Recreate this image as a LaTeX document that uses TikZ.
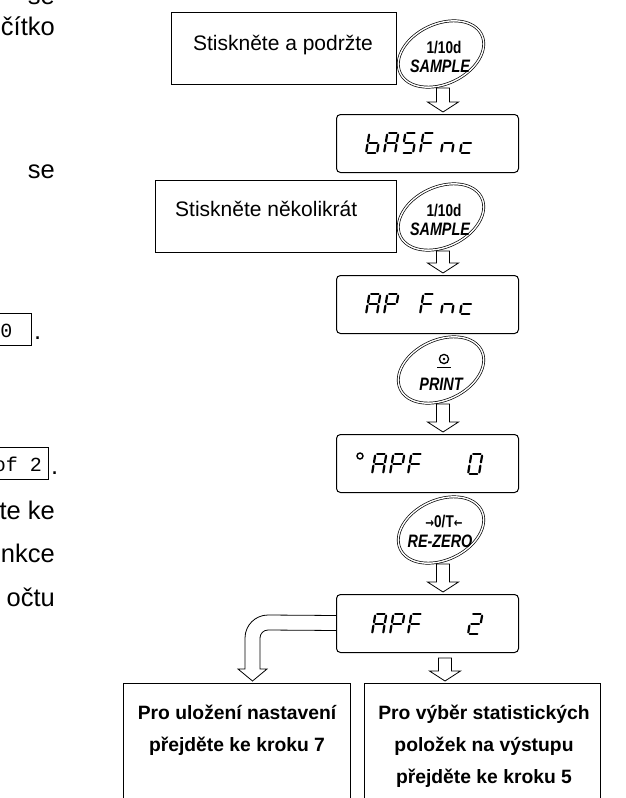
\documentclass[tikz,border=0pt]{standalone}
\usepackage{fontspec}
\usepackage{graphicx}
\usetikzlibrary{calc}
\setmainfont{Liberation Sans}
\setmonofont{Liberation Mono}
\newfontfamily\symbolfont{DejaVu Sans}

% seven-segment LCD pieces; #1,#2 = lower-left corner of the glyph (px, y down)
\newcommand\segA[2]{\draw[segline] ({#1+5.1},{#2-20}) -- ({#1+12.6},{#2-20});}
\newcommand\segB[2]{\draw[segline] ({#1+14.1},{#2-18.4}) -- ({#1+12.9},{#2-11.6});}
\newcommand\segC[2]{\draw[segline] ({#1+12.4},{#2-8.4}) -- ({#1+11.3},{#2-1.6});}
\newcommand\segD[2]{\draw[segline] ({#1+1.6},{#2}) -- ({#1+9.4},{#2});}
\newcommand\segE[2]{\draw[segline] ({#1+0.3},{#2-1.6}) -- ({#1+1.4},{#2-8.4});}
\newcommand\segF[2]{\draw[segline] ({#1+2.0},{#2-11.6}) -- ({#1+3.1},{#2-18.4});}
\newcommand\segG[2]{\draw[segline] ({#1+3.3},{#2-10}) -- ({#1+11.0},{#2-10});}
\newcommand\lcdchar[3]{\foreach \q in {#3}{\csname seg\q\endcsname{#1}{#2}}}

% hollow block arrow pointing down from #1 to just above #2
\newcommand\blockarrow[2]{%
  \draw[hollow] let \p1=#1, \p2=#2 in
    (\x1-6.5pt,\y1) -- (\x1+6.5pt,\y1) -- (\x1+6.5pt,\y2+12pt) -- (\x1+15.5pt,\y2+12pt)
    -- (\x1,\y2+2pt) -- (\x1-15.5pt,\y2+12pt) -- (\x1-6.5pt,\y2+12pt) -- cycle;}

% condensed bold lettering used on the keys
\newcommand\keylabel[1]{\scalebox{0.8}[1]{#1}}

\begin{document}
\begin{tikzpicture}[x=1pt,y=-1pt,
  boxline/.style={draw, line width=1.3pt, inner sep=0pt},
  disp/.style={draw, line width=1pt, rounded corners=4pt, inner sep=0pt,
    minimum width=182pt, minimum height=58pt, anchor=north west},
  btn/.style={draw, line width=0.7pt, double, double distance=1.4pt},
  hollow/.style={draw, line width=0.8pt, fill=white, line join=miter},
  segline/.style={line width=2.2pt, line cap=round},
  body/.style={font=\fontsize{25.5}{30}\selectfont, inner sep=0pt},
  mono/.style={font=\fontsize{20}{22}\selectfont\ttfamily, inner sep=0pt},
  boxtext/.style={font=\fontsize{21}{25}\selectfont, inner sep=0pt},
  keytext/.style={font=\fontsize{17}{18}\selectfont\bfseries, inner sep=0pt},
  keyital/.style={font=\fontsize{18}{19}\selectfont\bfseries\itshape, inner sep=0pt},
  goal/.style={font=\fontsize{19.3}{22}\selectfont\bfseries, inner sep=0pt},
  keyshape/.style={btn, rotate around={25:(#1)}},
]
\useasboundingbox (0,0) rectangle (625,798);
\clip (0,0) rectangle (625,798);

% running text on the left margin
\node[body, anchor=base east] (t0) at (55,4) {se};
\node[body, anchor=base east] (t1) at (55,35) {čítko};
\node[body, anchor=base east] (t2) at (55,178) {se};
\node[boxline, minimum width=45pt, minimum height=32pt, anchor=north east] (m1) at (32,313) {};
\node[mono, anchor=base east] (m1t) at (12.6,337) {0};
\node[body, anchor=base west] (m1d) at (34,339) {.};
\node[boxline, minimum width=60pt, minimum height=32pt, anchor=north east] (m2) at (49,447) {};
\node[mono, anchor=base east] (m2t) at (42,471) {of 2};
\node[body, anchor=base west] (m2d) at (51,474) {.};
\node[body, anchor=base east] (t3) at (55,519) {te ke};
\node[body, anchor=base east] (t4) at (55,562) {nkce};
\node[body, anchor=base east] (t5) at (55,606) {očtu};

% instruction boxes
\node[boxline, minimum width=225pt, minimum height=72pt, anchor=north west] (hold) at (171,12) {};
\node[boxtext, anchor=base] (holdt) at (283,50) {Stiskněte a podržte};
\node[boxline, minimum width=241pt, minimum height=72pt, anchor=north west] (rep) at (155,180) {};
\node[boxtext, anchor=base west] (rept) at (175,216) {Stiskněte několikrát};

% keys
\coordinate (k1) at (441,54);
\draw[keyshape=k1] (k1) ellipse [x radius=45, y radius=30];
\node[keytext] (k1a) at (444,48) {\keylabel{1/10d}};
\node[keyital] (k1b) at (440,66) {\keylabel{SAMPLE}};

\coordinate (k2) at (441,217);
\draw[keyshape=k2] (k2) ellipse [x radius=45, y radius=30];
\node[keytext] (k2a) at (444,211) {\keylabel{1/10d}};
\node[keyital] (k2b) at (440,229) {\keylabel{SAMPLE}};

\coordinate (k3) at (441,370);
\draw[keyshape=k3] (k3) ellipse [x radius=45, y radius=30];
\coordinate (k3s) at (444,359);
\draw[line width=1.3pt] (k3s) circle [radius=4.6];
\fill (k3s) circle [radius=1.4];
\draw[line width=1.3pt] ($(k3s)+(-7,8.5)$) -- ($(k3s)+(7,8.5)$);
\node[keyital] (k3b) at (441,384) {\keylabel{PRINT}};

\coordinate (k4) at (441,530);
\draw[keyshape=k4] (k4) ellipse [x radius=45, y radius=30];
\node[keytext] (k4a) at (444,522) {\keylabel{{\symbolfont\fontsize{13}{14}\selectfont\bfseries →}0/T{\symbolfont\fontsize{13}{14}\selectfont\bfseries ←}}};
\node[keyital] (k4b) at (440,541) {\keylabel{RE-ZERO}};

% LCD displays
\node[disp] (d1) at (336,114) {};
\lcdchar{366}{153}{C,D,E,F,G}
\lcdchar{384}{153}{A,B,C,E,F,G}
\lcdchar{402}{153}{A,F,G,C,D}
\lcdchar{420}{153}{A,F,E,G}
\lcdchar{441}{153}{C,E,G}
\lcdchar{460}{153}{D,E,G}

\node[disp] (d2) at (336,275) {};
\lcdchar{366}{314}{A,B,C,E,F,G}
\lcdchar{384}{314}{A,B,F,E,G}
\lcdchar{420}{314}{A,F,E,G}
\lcdchar{441}{314}{C,E,G}
\lcdchar{460}{314}{D,E,G}

\node[disp] (d3) at (336,434) {};
\draw[line width=1.4pt] (360,456) circle [radius=3];
\lcdchar{372}{474}{A,B,C,E,F,G}
\lcdchar{390}{474}{A,B,F,E,G}
\lcdchar{408}{474}{A,F,E,G}
\lcdchar{468}{474}{A,B,C,D,E,F}

\node[disp] (d4) at (336,594) {};
\lcdchar{372}{634}{A,B,C,E,F,G}
\lcdchar{390}{634}{A,B,F,E,G}
\lcdchar{408}{634}{A,F,E,G}
\lcdchar{468}{634}{A,B,G,E,D}

% result boxes
\node[boxline, minimum width=227pt, minimum height=130pt, anchor=north west] (g1) at (123,683) {};
\node[goal, anchor=base] (g1a) at (237,719) {Pro uložení nastavení};
\node[goal, anchor=base] (g1b) at (237,751) {přejděte ke kroku 7};
\node[boxline, minimum width=236pt, minimum height=130pt, anchor=north west] (g2) at (364,683) {};
\node[goal, anchor=base] (g2a) at (484,719) {Pro výběr statistických};
\node[goal, anchor=base] (g2b) at (484,751) {položek na výstupu};
\node[goal, anchor=base] (g2c) at (484,783) {přejděte ke kroku 5};

% arrows between keys and displays
\coordinate (a1) at (443,88);
\blockarrow{(a1)}{(a1 |- d1.north)}
\coordinate (a2) at (443,251);
\blockarrow{(a2)}{(a2 |- d2.north)}
\coordinate (a3) at (443,404);
\blockarrow{(a3)}{(a3 |- d3.north)}
\coordinate (a4) at (443,564);
\blockarrow{(a4)}{(a4 |- d4.north)}
\coordinate (a5) at (445,658);
\blockarrow{(a5)}{(a5 |- g2.north)}

% bent arrow leaving the last display to the left
\draw[hollow, fill=none]
  ($(d4.west)+(0,-8)$) -- (268,615) .. controls (255.3,615) and (245,625.3) .. (245,638)
  -- (245,669) -- (238,669) -- ($(g1.north -| 252.5,0)+(0,-2)$) -- (267,669) -- (260,669)
  -- (260,638) .. controls (260,633.6) and (263.6,630) .. (268,630) -- ($(d4.west)+(0,7)$);
\end{tikzpicture}
\end{document}
